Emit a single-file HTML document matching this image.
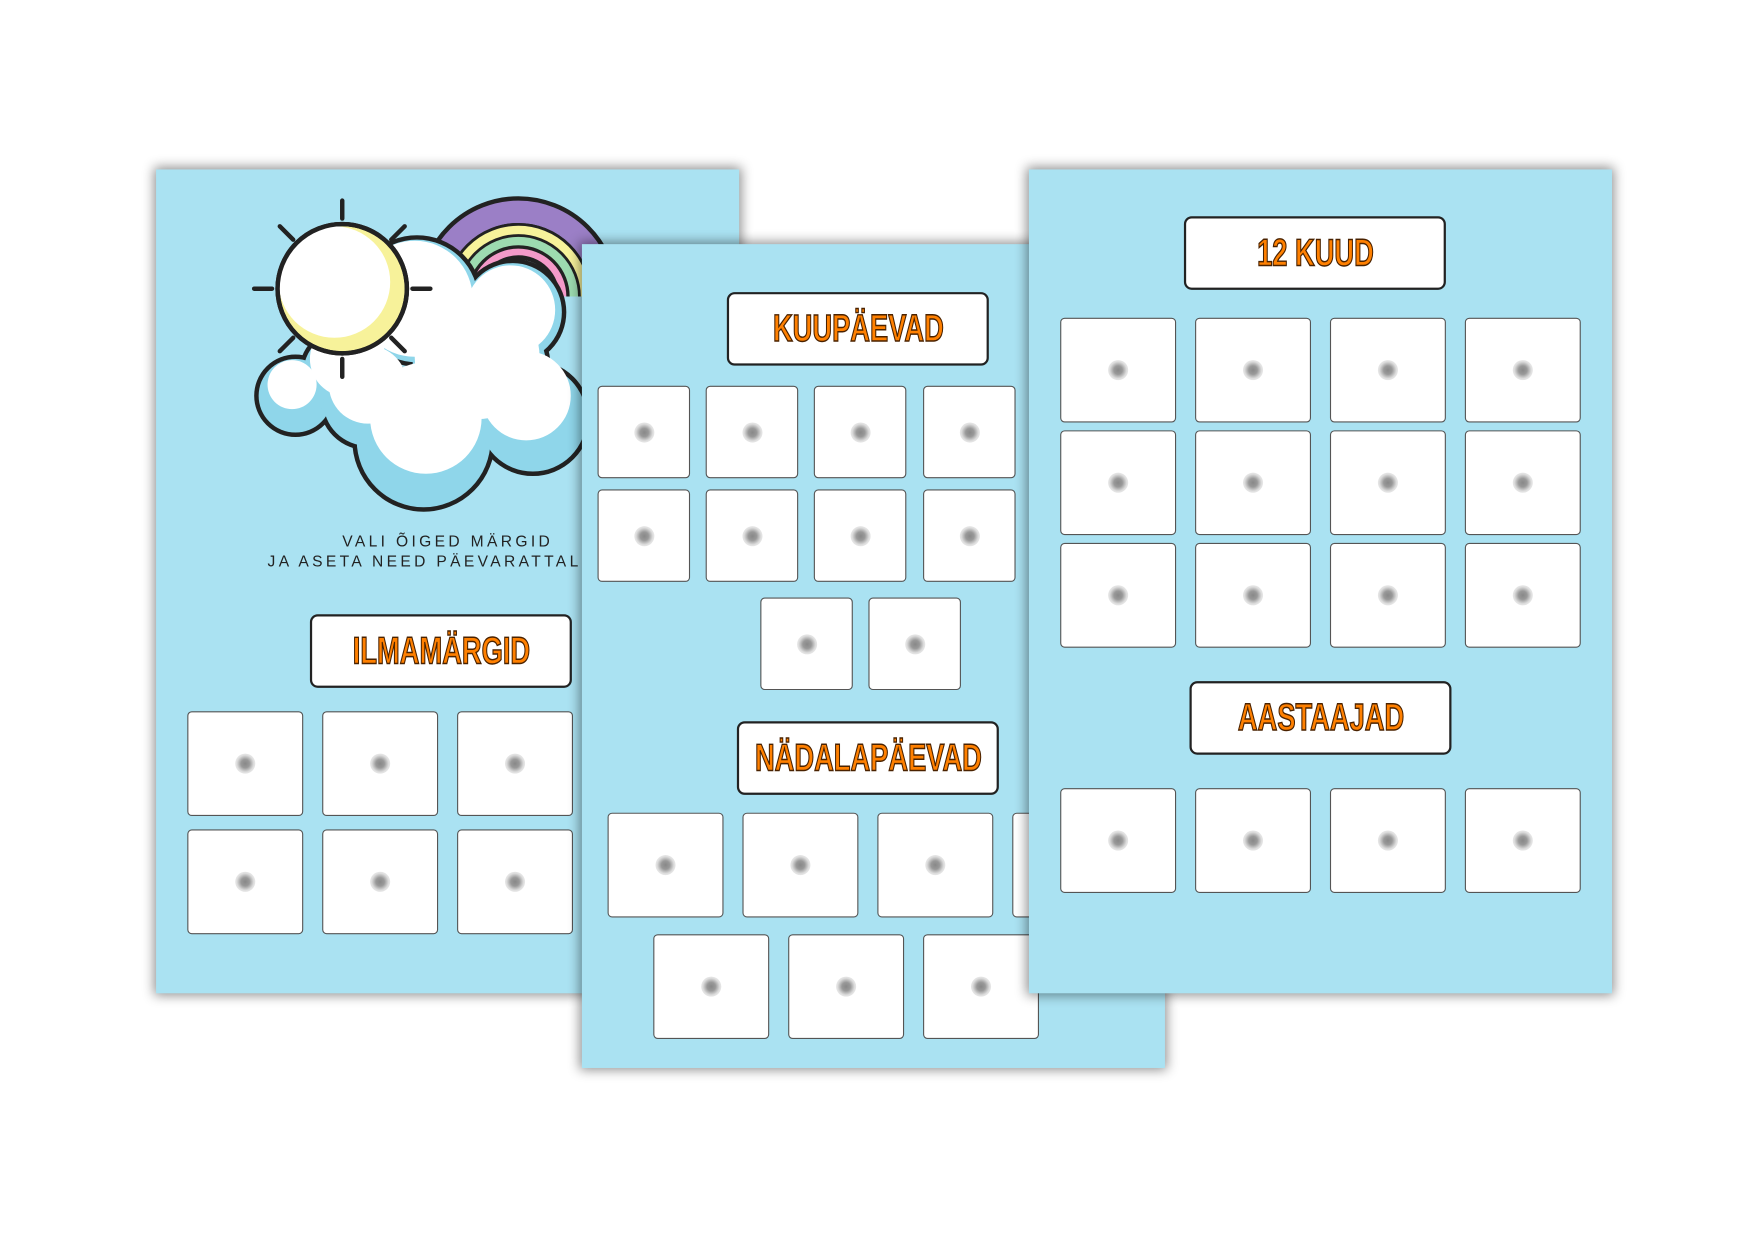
<!DOCTYPE html>
<html><head><meta charset="utf-8"><style>
html,body{margin:0;padding:0;background:#fff;width:1748px;height:1240px;overflow:hidden}
#w{position:absolute;left:0;top:0;width:1568px;height:1112px;transform-origin:0 0;transform:scale(1.1148,1.1148)}
.pg{position:absolute;width:523px;height:739px;background:#aae2f2;box-shadow:0 0 10px 2px rgba(0,0,0,.45);overflow:hidden}
.b{position:absolute;background:#fff;border:1px solid #555;border-radius:4px;box-sizing:border-box}
.b::after{content:"";position:absolute;left:50%;top:50%;width:18px;height:18px;margin:-9px 0 0 -9px;border-radius:50%;background:radial-gradient(circle,#888 0,#999 30%,rgba(200,200,200,.6) 60%,rgba(255,255,255,0) 100%)}
.l{position:absolute;width:235px;height:66px;background:#fff;border:2px solid #222;border-radius:7px;box-sizing:border-box;line-height:62px}
.l span{position:absolute;left:50%;top:0;transform:translateX(-50%) scaleX(0.72);font-family:"Liberation Sans",sans-serif;font-weight:bold;font-size:34px;color:#ff8000;-webkit-text-stroke:1.3px #4a2200;white-space:nowrap}
.t{position:absolute;font-family:"Liberation Sans",sans-serif;font-size:14px;letter-spacing:3px;color:#222;white-space:nowrap}
</style></head><body><div id="w">

<div class="pg" style="left:140px;top:152px">
<svg width="523" height="739" style="position:absolute;left:0;top:0" viewBox="140 152 523 739">
<g fill="none">
<path d="M389 266 A76 76 0 0 1 541 266" stroke="#222" stroke-width="28"/>
<path d="M389 266 A76 76 0 0 1 541 266" stroke="#9b7fc6" stroke-width="20"/>
<path d="M401 266 A64 64 0 0 1 529 266" stroke="#222" stroke-width="4"/>
<path d="M406 266 A59 59 0 0 1 524 266" stroke="#f7f29a" stroke-width="9"/>
<path d="M411 266 A54 54 0 0 1 519 266" stroke="#222" stroke-width="4"/>
<path d="M416 266 A49 49 0 0 1 514 266" stroke="#9ddbb0" stroke-width="9"/>
<path d="M421 266 A44 44 0 0 1 509 266" stroke="#222" stroke-width="4"/>
<path d="M426 266 A39 39 0 0 1 504 266" stroke="#f49ac9" stroke-width="8"/>
<path d="M430 266 A35 35 0 0 1 500 266" stroke="#222" stroke-width="4"/>
</g>
<g fill="#8fd6ea" stroke="#222" stroke-width="8">
<circle cx="265" cy="355" r="33"/><circle cx="310" cy="335" r="38"/><circle cx="380" cy="395" r="60"/>
<circle cx="460" cy="280" r="44"/><circle cx="374" cy="270" r="55"/><circle cx="478" cy="375" r="48"/><circle cx="430" cy="330" r="60"/><circle cx="330" cy="360" r="40"/>
</g>
<g fill="#8fd6ea">
<circle cx="265" cy="355" r="33"/><circle cx="310" cy="335" r="38"/><circle cx="380" cy="395" r="60"/>
<circle cx="460" cy="280" r="44"/><circle cx="374" cy="270" r="55"/><circle cx="478" cy="375" r="48"/><circle cx="430" cy="330" r="60"/><circle cx="330" cy="360" r="40"/>
</g>
<g fill="#fff">
<circle cx="262" cy="345" r="22"/><circle cx="312" cy="322" r="34"/><circle cx="382" cy="375" r="50"/>
<circle cx="458" cy="278" r="40"/><circle cx="372" cy="268" r="52"/><circle cx="472" cy="355" r="40"/><circle cx="428" cy="320" r="56"/><circle cx="330" cy="345" r="35"/>
</g>
<g stroke="#222" stroke-width="4" stroke-linecap="round">
<line x1="307" y1="180" x2="307" y2="196"/><line x1="307" y1="322" x2="307" y2="338"/>
<line x1="228" y1="259" x2="244" y2="259"/><line x1="370" y1="259" x2="386" y2="259"/>
<line x1="251" y1="203" x2="263" y2="215"/><line x1="351" y1="303" x2="363" y2="315"/>
<line x1="363" y1="203" x2="351" y2="215"/><line x1="263" y1="303" x2="251" y2="315"/>
</g>
<circle cx="307" cy="259" r="58" fill="#f7f29a" stroke="#222" stroke-width="4"/>
<circle cx="300" cy="253" r="50" fill="#fff"/>
<circle cx="307" cy="259" r="58" fill="none" stroke="#222" stroke-width="4"/>
</svg>
<div class="t" style="left:167px;top:325px">VALI ÕIGED MÄRGID</div>
<div class="t" style="left:100px;top:343px">JA ASETA NEED PÄEVARATTALE</div>
<div class="l" style="left:138px;top:399px"><span>ILMAMÄRGID</span></div>
<div class="b" style="left:28px;top:486px;width:104px;height:94px"></div>
<div class="b" style="left:149px;top:486px;width:104px;height:94px"></div>
<div class="b" style="left:270px;top:486px;width:104px;height:94px"></div>
<div class="b" style="left:28px;top:592px;width:104px;height:94px"></div>
<div class="b" style="left:149px;top:592px;width:104px;height:94px"></div>
<div class="b" style="left:270px;top:592px;width:104px;height:94px"></div>
</div>

<div class="pg" style="left:522px;top:219px">
<div class="l" style="left:130px;top:43px"><span>KUUPÄEVAD</span></div>
<div class="b" style="left:14px;top:127px;width:83px;height:83px"></div>
<div class="b" style="left:111px;top:127px;width:83px;height:83px"></div>
<div class="b" style="left:208px;top:127px;width:83px;height:83px"></div>
<div class="b" style="left:306px;top:127px;width:83px;height:83px"></div>
<div class="b" style="left:14px;top:220px;width:83px;height:83px"></div>
<div class="b" style="left:111px;top:220px;width:83px;height:83px"></div>
<div class="b" style="left:208px;top:220px;width:83px;height:83px"></div>
<div class="b" style="left:306px;top:220px;width:83px;height:83px"></div>
<div class="b" style="left:160px;top:317px;width:83px;height:83px"></div>
<div class="b" style="left:257px;top:317px;width:83px;height:83px"></div>
<div class="l" style="left:139px;top:428px"><span>NÄDALAPÄEVAD</span></div>
<div class="b" style="left:23px;top:510px;width:104px;height:94px"></div>
<div class="b" style="left:144px;top:510px;width:104px;height:94px"></div>
<div class="b" style="left:265px;top:510px;width:104px;height:94px"></div>
<div class="b" style="left:386px;top:510px;width:104px;height:94px"></div>
<div class="b" style="left:64px;top:619px;width:104px;height:94px"></div>
<div class="b" style="left:185px;top:619px;width:104px;height:94px"></div>
<div class="b" style="left:306px;top:619px;width:104px;height:94px"></div>
</div>

<div class="pg" style="left:923px;top:152px">
<div class="l" style="left:139px;top:42px"><span>12 KUUD</span></div>
<div class="b" style="left:28px;top:133px;width:104px;height:94px"></div>
<div class="b" style="left:149px;top:133px;width:104px;height:94px"></div>
<div class="b" style="left:270px;top:133px;width:104px;height:94px"></div>
<div class="b" style="left:391px;top:133px;width:104px;height:94px"></div>
<div class="b" style="left:28px;top:234px;width:104px;height:94px"></div>
<div class="b" style="left:149px;top:234px;width:104px;height:94px"></div>
<div class="b" style="left:270px;top:234px;width:104px;height:94px"></div>
<div class="b" style="left:391px;top:234px;width:104px;height:94px"></div>
<div class="b" style="left:28px;top:335px;width:104px;height:94px"></div>
<div class="b" style="left:149px;top:335px;width:104px;height:94px"></div>
<div class="b" style="left:270px;top:335px;width:104px;height:94px"></div>
<div class="b" style="left:391px;top:335px;width:104px;height:94px"></div>
<div class="l" style="left:144px;top:459px"><span>AASTAAJAD</span></div>
<div class="b" style="left:28px;top:555px;width:104px;height:94px"></div>
<div class="b" style="left:149px;top:555px;width:104px;height:94px"></div>
<div class="b" style="left:270px;top:555px;width:104px;height:94px"></div>
<div class="b" style="left:391px;top:555px;width:104px;height:94px"></div>
</div>

</div></body></html>
